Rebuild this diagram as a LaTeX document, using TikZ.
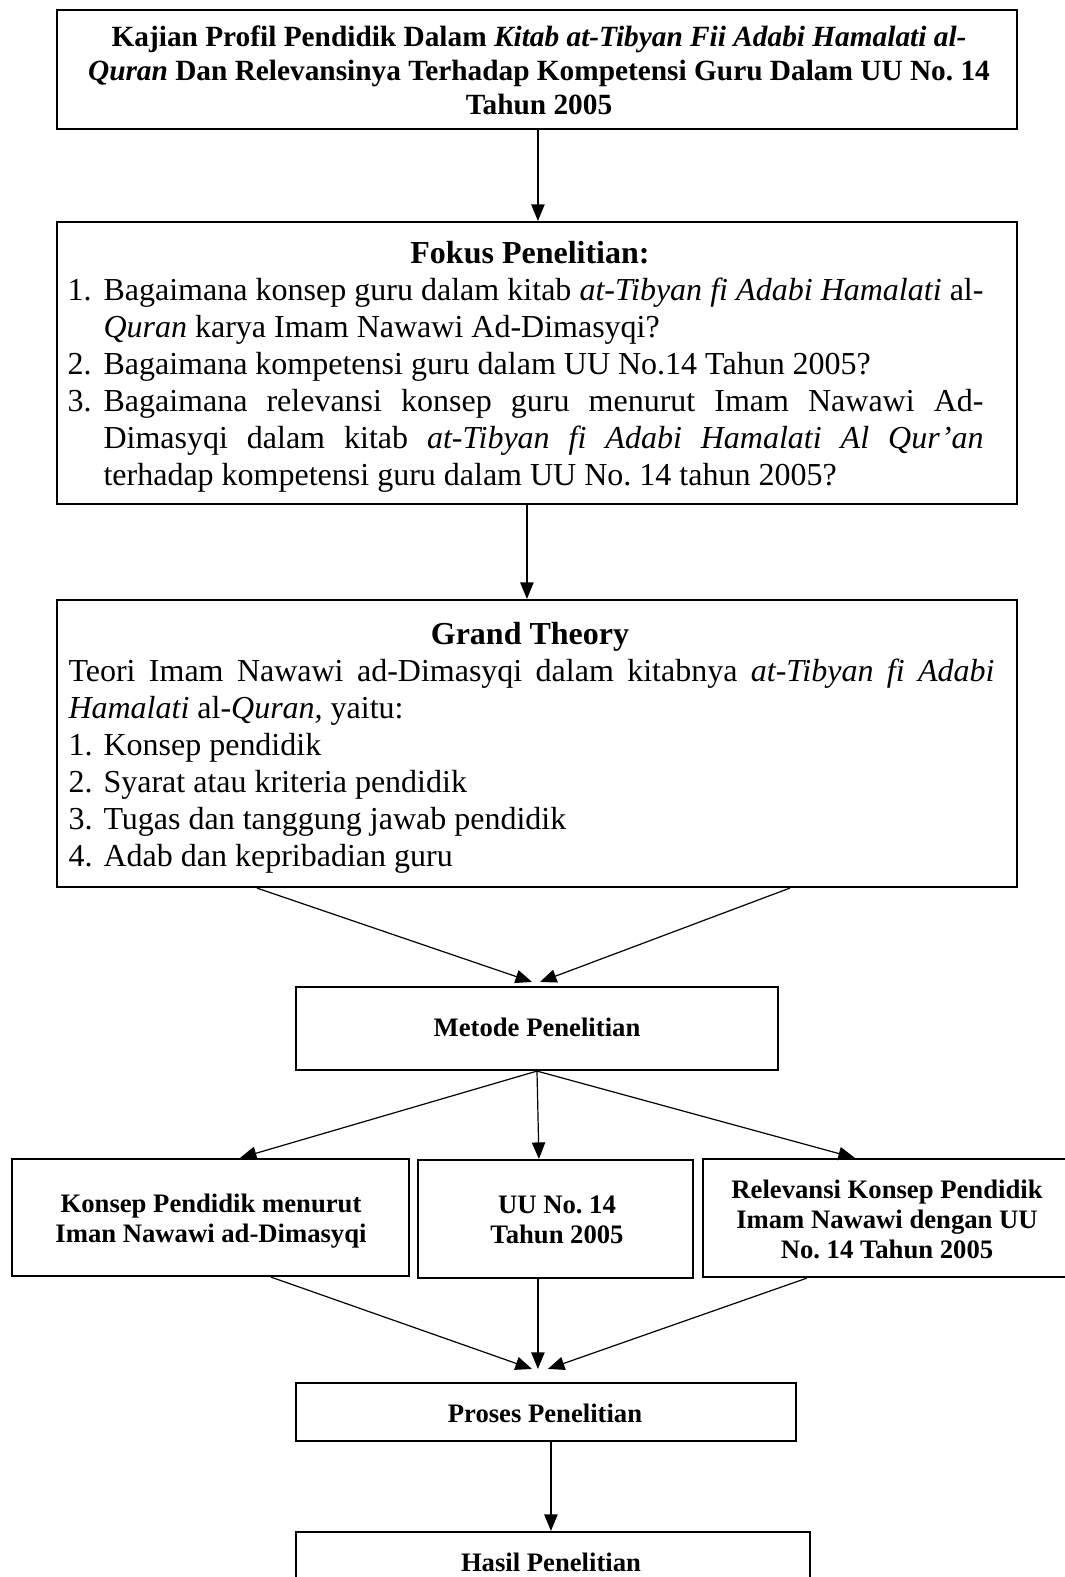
\documentclass[tikz,border=0pt]{standalone}
\usepackage{fontspec}
\setmainfont{Liberation Serif}
\usetikzlibrary{arrows.meta,calc,fit}
\frenchspacing
\tikzset{
  boxx/.style={draw, line width=0.8pt, inner sep=0pt, rectangle},
  body/.style={inner sep=0pt, anchor=base west, font=\fontsize{12pt}{13.9pt}\selectfont},
  hdr/.style={inner sep=0pt, anchor=base, font=\fontsize{12pt}{13.9pt}\selectfont\bfseries},
  ttl/.style={inner sep=0pt, anchor=base, font=\fontsize{11pt}{12.75pt}\selectfont\bfseries},
  sml/.style={inner sep=0pt, anchor=base, font=\fontsize{10pt}{11.25pt}\selectfont\bfseries},
  conn/.style={-{Triangle[length=6.2pt,width=5pt]}, line width=0.45pt}
}
\begin{document}
\begin{tikzpicture}[x=0.375pt, y=-0.375pt]
\useasboundingbox (0,0) rectangle (1065,1577);

% boxes
\node[boxx, fit={(57,10) (1017,129)}] (top) {};
\node[boxx, fit={(57,222) (1017,504)}] (fokus) {};
\node[boxx, fit={(57,600) (1017,887)}] (grand) {};
\node[boxx, fit={(296,987) (778,1070)}] (metode) {};
\node[boxx, fit={(12,1159) (409,1276)}] (kleft) {};
\node[boxx, fit={(418,1160) (693,1278)}] (kmid) {};
\node[boxx, fit={(703,1159) (1080,1277)}] (kright) {};
\node[boxx, fit={(296,1383) (796,1441)}] (proses) {};
\node[boxx, fit={(296,1532) (810,1600)}] (hasil) {};

% top box text
\node[ttl] (t1) at (539,46) {Kajian Profil Pendidik Dalam \textit{Kitab at-Tibyan Fii Adabi Hamalati al-}};
\node[ttl] (t2) at (539,80) {\textit{Quran} Dan Relevansinya Terhadap Kompetensi Guru Dalam UU No. 14};
\node[ttl] (t3) at (539,114) {Tahun 2005};

% fokus text
\node[hdr] (f0) at (530,263) {Fokus Penelitian:};
\node[body] (f1n) at (67,300) {1.};
\node[body] (f1a) at (103,300) {\makebox[330pt][s]{Bagaimana konsep guru dalam kitab \textit{at-Tibyan fi Adabi Hamalati} al-}};
\node[body] (f1b) at (103,337) {\textit{Quran} karya Imam Nawawi Ad-Dimasyqi?};
\node[body] (f2n) at (67,374) {2.};
\node[body] (f2a) at (103,374) {Bagaimana kompetensi guru dalam UU No.14 Tahun 2005?};
\node[body] (f3n) at (67,411) {3.};
\node[body] (f3a) at (103,411) {\makebox[330pt][s]{Bagaimana relevansi konsep guru menurut Imam Nawawi Ad-}};
\node[body] (f3b) at (103,448) {\makebox[330pt][s]{Dimasyqi dalam kitab \textit{at-Tibyan fi Adabi Hamalati Al Qur’an}}};
\node[body] (f3c) at (103,485) {terhadap kompetensi guru dalam UU No. 14 tahun 2005?};

% grand theory text
\node[hdr] (g0) at (530,644) {Grand Theory};
\node[body] (g1) at (68,681) {\makebox[347.25pt][s]{Teori Imam Nawawi ad-Dimasyqi dalam kitabnya \textit{at-Tibyan fi Adabi}}};
\node[body] (g2) at (68,718) {\textit{Hamalati} al-\textit{Quran,} yaitu:};
\node[body] (g3n) at (68,755) {1.};
\node[body] (g3) at (103,755) {Konsep pendidik};
\node[body] (g4n) at (68,792) {2.};
\node[body] (g4) at (103,792) {Syarat atau kriteria pendidik};
\node[body] (g5n) at (68,829) {3.};
\node[body] (g5) at (103,829) {Tugas dan tanggung jawab pendidik};
\node[body] (g6n) at (68,866) {4.};
\node[body] (g6) at (103,866) {Adab dan kepribadian guru};

% small box texts
\node[sml] (m1) at (537,1036) {Metode Penelitian};
\node[sml] (l1) at (211,1212) {Konsep Pendidik menurut};
\node[sml] (l2) at (211,1242) {Iman Nawawi ad-Dimasyqi};
\node[sml] (c1) at (557,1213) {UU No. 14};
\node[sml] (c2) at (557,1243) {Tahun 2005};
\node[sml] (r1) at (887,1198) {Relevansi Konsep Pendidik};
\node[sml] (r2) at (887,1228) {Imam Nawawi dengan UU};
\node[sml] (r3) at (887,1258) {No. 14 Tahun 2005};
\node[sml] (p1) at (545,1422) {Proses Penelitian};
\node[sml] (h1) at (551,1571) {Hasil Penelitian};

% connectors
\draw[conn] ($(top.south west)+(482,0)$) -- ($(fokus.north west)+(482,0)$);
\draw[conn] ($(fokus.south west)+(471,0)$) -- ($(grand.north west)+(471,0)$);
\draw[conn] ($(grand.south west)+(201,0)$) -- ($(metode.north)+(-5,-4)$);
\draw[conn] ($(grand.south west)+(734,0)$) -- ($(metode.north)+(3,-4)$);
\draw[conn] (metode.south) -- ($(kleft.north west)+(229,0)$);
\draw[conn] (metode.south) -- ($(kmid.north west)+(122,0)$);
\draw[conn] (metode.south) -- ($(kright.north west)+(153,0)$);
\draw[conn] ($(kleft.south west)+(260,0)$) -- ($(proses.north west)+(237,-13)$);
\draw[conn] ($(kmid.south west)+(121,0)$) -- ($(proses.north west)+(243,-13)$);
\draw[conn] ($(kright.south west)+(105,0)$) -- ($(proses.north west)+(253,-13)$);
\draw[conn] ($(proses.south west)+(256,0)$) -- ($(hasil.north west)+(256,0)$);
\end{tikzpicture}
\end{document}
